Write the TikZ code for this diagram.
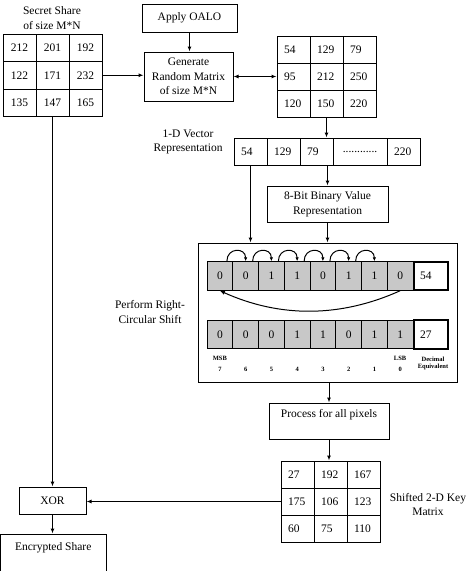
\documentclass[tikz,border=0pt]{standalone}
\usepackage{fontspec}
\setmainfont{Liberation Serif}
\usetikzlibrary{arrows.meta,calc}
\newcommand\mytxt{\fontsize{11.5}{14.5}\selectfont}
\newcommand\mynum{\fontsize{11.5}{14}\selectfont}
\newcommand\mytiny{\fontsize{6.5}{7.5}\selectfont\bfseries}
\definecolor{bitgray}{RGB}{200,200,200}
\tikzset{
  box/.style={draw, line width=1pt, inner sep=0pt, font=\mytxt, align=center},
  lbl/.style={inner sep=0pt, font=\mytxt, align=center},
  cellc/.style={draw, line width=1pt, minimum width=33pt, minimum height=27.5pt, inner sep=0pt, font=\mynum},
  celll/.style={cellc, text width=19pt, inner xsep=7pt, align=left},
  bitcell/.style={draw, fill=bitgray, line width=1pt, minimum width=25.75pt, minimum height=28.5pt, inner sep=0pt, font=\mynum},
  deccell/.style={draw, fill=white, line width=1.8pt, minimum width=34pt, minimum height=28.5pt, inner sep=0pt, text width=22pt, inner xsep=6pt, align=left, font=\mynum},
  tinylbl/.style={inner sep=0pt, font=\mytiny, align=center},
  arr/.style={-{Latex[length=5pt,width=4pt]}, line width=1pt},
  darr/.style={{Latex[length=5pt,width=4pt]}-{Latex[length=5pt,width=4pt]}, line width=1pt},
  sarr/.style={-{Latex[length=4pt,width=3.5pt]}, line width=1pt},
}
\begin{document}
\begin{tikzpicture}[x=1pt,y=-1pt]
\useasboundingbox (0,0) rectangle (474,571);

% Secret share
\node[lbl] (sslbl) at (52,18) {Secret Share\\of size M*N};
\foreach \v [count=\i from 0] in {212,201,192,122,171,232,135,147,165}{
  \pgfmathtruncatemacro\r{\i/3+1}
  \pgfmathtruncatemacro\c{mod(\i,3)+1}
  \node[cellc] (s\r\c) at ({3+16.5+33*(\c-1)},{34+13.75+27.5*(\r-1)}) {\v};
}

% Apply OALO and Generate
\node[box, minimum width=95pt, minimum height=28pt] (oalo) at (189.5,18) {Apply OALO};
\node[box, minimum width=89pt, minimum height=49pt] (gen) at (188.5,76.5) {Generate\\Random Matrix\\of size M*N};

% Random matrix
\foreach \v [count=\i from 0] in {54,129,79,95,212,250,120,150,220}{
  \pgfmathtruncatemacro\r{\i/3+1}
  \pgfmathtruncatemacro\c{mod(\i,3)+1}
  \node[celll, minimum height=27pt] (r\r\c) at ({277+16.5+33*(\c-1)},{36+13.5+27*(\r-1)}) {\v};
}

% Vector
\node[lbl] (veclbl) at (188,142) {1-D Vector\\Representation};
\node[celll, minimum height=27pt] (v1) at (250.5,151.5) {54};
\node[celll, minimum height=27pt] (v2) at (283.5,151.5) {129};
\node[celll, minimum height=27pt] (v3) at (316.5,151.5) {79};
\node[cellc, minimum height=27pt, minimum width=54pt] (v4) at (360,151.5) {............};
\node[celll, minimum height=27pt] (v5) at (403.5,151.5) {220};

% 8-bit box
\node[box, minimum width=121pt, minimum height=36pt] (bits) at (327.5,204) {8-Bit Binary Value\\Representation};

% Big box
\node[draw, line width=1pt, minimum width=259pt, minimum height=139pt, inner sep=0pt] (bigbox) at (327.5,312.5) {};
\node[lbl] (shiftlbl) at (150,312) {Perform Right-\\Circular Shift};

\foreach \b [count=\i] in {0,0,1,1,0,1,1,0}
  \node[bitcell] (a\i) at ({207+25.75*(\i-0.5)},276) {\b};
\node[deccell] (adec) at (431,276) {54};
\foreach \b [count=\i] in {0,0,0,1,1,0,1,1}
  \node[bitcell] (c\i) at ({207+25.75*(\i-0.5)},334.5) {\b};
\node[deccell] (cdec) at (431,334.5) {27};

\foreach \i [count=\j from 2] in {1,...,6}
  \draw[sarr] ($(a\i.north)+(7,0)$) .. controls +(0,-14) and +(0,-14) .. (a\j.north);
\draw[arr] (a8.south) .. controls +(-60,27) and +(60,27) .. (a1.south);

\node[tinylbl] (msb) at (c1 |- 0,358) {MSB};
\node[tinylbl] (lsb) at (c8 |- 0,358) {LSB};
\foreach \i in {1,...,8}{
  \pgfmathtruncatemacro\d{8-\i}
  \node[tinylbl] (n\i) at (c\i |- 0,369.5) {\d};
}
\node[tinylbl] (declbl) at (433,363.5) {Decimal\\Equivalent};

% Process
\node[box, minimum width=120pt, minimum height=36pt] (proc) at (329,421) {Process for all pixels\\\mbox{}};

% Key matrix
\foreach \v [count=\i from 0] in {27,192,167,175,106,123,60,75,110}{
  \pgfmathtruncatemacro\r{\i/3+1}
  \pgfmathtruncatemacro\c{mod(\i,3)+1}
  \node[celll, minimum height=27pt] (k\r\c) at ({281+16.5+33*(\c-1)},{461+13.5+27*(\r-1)}) {\v};
}
\node[lbl] (keylbl) at (428,504.5) {Shifted 2-D Key\\Matrix};

% XOR and Encrypted
\node[box, minimum width=67pt, minimum height=27pt] (xor) at (52.5,500.5) {XOR};
\node[box, minimum width=105.5pt, minimum height=40pt] (enc) at (53.25,554) {Encrypted Share\\\mbox{}};

% Connectors
\draw[arr] (oalo.south) -- (oalo.south |- gen.north);
\draw[arr] (s23.east) -- (s23.east -| gen.west);
\draw[darr] (gen.east) -- (gen.east -| r21.west);
\draw[arr] (r32.south) -- (r32.south |- v3.north);
\draw[arr] (bits.north |- v3.south) -- (bits.north);
\draw[arr] (v1.south) -- (v1.south |- bigbox.north);
\draw[arr] (bits.south) -- (bigbox.north);
\draw[arr] (proc.north |- bigbox.south) -- (proc.north);
\draw[arr] (proc.south) -- (proc.south |- k12.north);
\draw[arr] (k21.west) -- (k21.west -| xor.east);
\draw[arr] (s32.south) -- (s32.south |- xor.north);
\draw[arr] (xor.south) -- (xor.south |- enc.north);
\end{tikzpicture}
\end{document}
